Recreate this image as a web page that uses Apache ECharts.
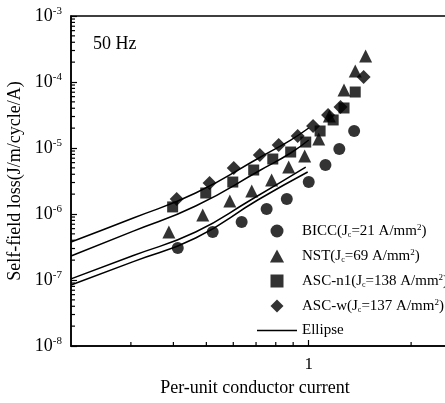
<!DOCTYPE html>
<html lang="en">
<head>
<meta charset="UTF-8">
<title>Self-field loss</title>
<script src="https://cdn.jsdelivr.net/npm/echarts@6/dist/echarts.min.js"></script>
<style>
html, body { margin: 0; padding: 0; background: #fff; }
#main { width: 445px; height: 403px; }
</style>
</head>
<body>
<div id="main"></div>
<script>
// points: [per-unit current, loss]
var bicc = [[0.412, 3.05e-7], [0.522, 5.33e-7], [0.635, 7.57e-7], [0.752, 1.19e-6], [0.862, 1.69e-6],
    [1.0, 3.05e-6], [1.12, 5.52e-6], [1.23, 9.66e-6], [1.36, 1.81e-5]];
var nst = [[0.388, 5.33e-7], [0.488, 9.66e-7], [0.586, 1.57e-6], [0.68, 2.23e-6], [0.778, 3.27e-6],
    [0.873, 5.15e-6], [0.973, 7.57e-6], [1.07, 1.37e-5], [1.15, 3.05e-5], [1.27, 7.57e-5],
    [1.37, 1.47e-4], [1.47, 2.48e-4]];
var ascN1 = [[0.398, 1.28e-6], [0.498, 2.08e-6], [0.598, 3.05e-6], [0.689, 4.64e-6], [0.784, 6.81e-6],
    [0.885, 8.69e-6], [0.98, 1.23e-5], [1.08, 1.81e-5], [1.18, 2.66e-5], [1.27, 4.04e-5], [1.37, 7.05e-5]];
var ascW = [[0.409, 1.69e-6], [0.511, 2.95e-6], [0.602, 4.98e-6], [0.718, 7.83e-6], [0.816, 1.11e-5],
    [0.928, 1.52e-5], [1.03, 2.15e-5], [1.14, 3.16e-5], [1.24, 4.18e-5], [1.45, 1.19e-4]];

// ellipse model curves, traced
var ellA = [[0.2, 3.77e-7], [0.305, 8.7e-7], [0.465, 2.08e-6], [0.722, 7.31e-6], [0.885, 1.32e-5], [1.0, 2.01e-5]];
var ellB = [[0.2, 2.31e-7], [0.305, 5.5e-7], [0.465, 1.32e-6], [0.722, 4.64e-6], [0.885, 8.4e-6], [1.0, 1.32e-5]];
var ellC = [[0.2, 1.04e-7], [0.305, 2.35e-7], [0.465, 5.33e-7], [0.675, 1.63e-6], [0.98, 5.15e-6]];
var ellD = [[0.2, 8.4e-8], [0.305, 1.9e-7], [0.465, 4.33e-7], [0.708, 1.63e-6], [0.993, 4.33e-6]];

var xMin = 0.2, xMax = 3, yMin = 1e-8, yMax = 1e-3;
var xMinorTicks = [0.3, 0.4, 0.5, 0.6, 0.7, 0.8, 0.9, 2];
var yMinorTicks = [];
[-8, -7, -6, -5, -4].forEach(function (e) {
    for (var k = 2; k <= 9; k++) yMinorTicks.push(k * Math.pow(10, e));
});

var legendRich = {
    'BICC': '{n|BICC(J}{s|c}{n|=21 A/mm}{p|2}{n|)}',
    'NST': '{n|NST(J}{s|c}{n|=69 A/mm}{p|2}{n|)}',
    'ASC-n1': '{n|ASC-n1(J}{s|c}{n|=138 A/mm}{p|2}{n|)}',
    'ASC-w': '{n|ASC-w(J}{s|c}{n|=137 A/mm}{p|2}{n|)}',
    'Ellipse': '{n|Ellipse}'
};

var serif = 'Liberation Serif';
var chart = echarts.init(document.getElementById('main'));

function scatter(name, data, symbol, size) {
    return {
        name: name, type: 'scatter', data: data, symbol: symbol, symbolSize: size,
        itemStyle: { color: '#000' }, z: 3
    };
}
function ellipse(data) {
    return {
        name: 'Ellipse', type: 'line', data: data, smooth: true, showSymbol: false, symbol: 'none',
        lineStyle: { color: '#000', width: 1.5 }, itemStyle: { color: '#000' }, z: 2
    };
}
function minorTicks(data, onY) {
    return {
        type: 'custom', silent: true, clip: false, z: 4,
        data: data,
        renderItem: function (params, api) {
            var p = onY ? api.coord([xMin, api.value(0)]) : api.coord([api.value(0), yMin]);
            return {
                type: 'line',
                shape: onY ? { x1: p[0], y1: p[1], x2: p[0] + 4, y2: p[1] }
                           : { x1: p[0], y1: p[1], x2: p[0], y2: p[1] - 4 },
                style: { stroke: '#000', lineWidth: 1.2 }
            };
        },
        encode: onY ? { y: 0 } : { x: 0 }
    };
}

chart.setOption({
    animation: false,
    backgroundColor: '#fff',
    title: {
        text: '50 Hz', left: 93, top: 35, padding: 0,
        textStyle: { fontFamily: serif, fontSize: 18, fontWeight: 'normal', color: '#000' }
    },
    grid: { left: 71, right: -26, top: 16, bottom: 57, outerBoundsMode: 'none',
        show: true, borderColor: '#000', borderWidth: 1.5, backgroundColor: 'transparent' },
    legend: {
        orient: 'vertical', left: 257, top: 223, padding: 0,
        itemWidth: 40, itemHeight: 13, itemGap: 9,
        symbolKeepAspect: true,
        data: [
            { name: 'BICC', icon: 'circle' },
            { name: 'NST', icon: 'path://M6,0L12,11L0,11Z' },
            { name: 'ASC-n1', icon: 'path://M0,0h11v11h-11z' },
            { name: 'ASC-w', icon: 'path://M6,0L12,6L6,12L0,6Z' },
            { name: 'Ellipse', icon: 'path://M0,0h40v1.5h-40z' }
        ],
        itemStyle: { color: '#000' },
        formatter: function (name) { return legendRich[name]; },
        textStyle: {
            color: '#000', fontFamily: serif,
            rich: {
                n: { fontSize: 15, fontFamily: serif, color: '#000', lineHeight: 16 },
                s: { fontSize: 8, fontFamily: serif, color: '#000', verticalAlign: 'bottom', lineHeight: 16 },
                p: { fontSize: 9, fontFamily: serif, color: '#000', verticalAlign: 'top', lineHeight: 16 }
            }
        }
    },
    xAxis: {
        type: 'log', min: xMin, max: xMax,
        name: 'Per-unit conductor current', nameLocation: 'middle', nameGap: 33,
        nameTextStyle: { fontFamily: serif, fontSize: 18, color: '#000', padding: [0, 32, 0, 0] },
        axisLine: { lineStyle: { color: '#000', width: 1.5 } },
        axisTick: { inside: true, length: 6, lineStyle: { color: '#000', width: 1.2 } },
        splitLine: { show: false },
        axisLabel: {
            margin: 10, fontFamily: serif, fontSize: 17, color: '#000',
            showMinLabel: false, showMaxLabel: false,
            formatter: function (v) { return Math.abs(v - 1) < 1e-6 ? '1' : ''; }
        }
    },
    yAxis: {
        type: 'log', min: yMin, max: yMax, splitNumber: 5,
        name: 'Self-field loss(J/m/cycle/A)', nameLocation: 'middle', nameGap: 46, nameRotate: 90,
        nameTextStyle: { fontFamily: serif, fontSize: 18, color: '#000' },
        axisLine: { lineStyle: { color: '#000', width: 1.5 } },
        axisTick: { inside: true, length: 6, lineStyle: { color: '#000', width: 1.2 } },
        splitLine: { show: false },
        axisLabel: {
            margin: 9, color: '#000',
            formatter: function (v) {
                return '{b|10}{e|' + Math.round(Math.log10(v)) + '}';
            },
            rich: {
                b: { fontFamily: serif, fontSize: 18, color: '#000', lineHeight: 20 },
                e: { fontFamily: serif, fontSize: 11, color: '#000', verticalAlign: 'top', lineHeight: 20 }
            }
        }
    },
    series: [
        ellipse(ellA), ellipse(ellB), ellipse(ellC), ellipse(ellD),
        scatter('BICC', bicc, 'circle', 12),
        scatter('NST', nst, 'triangle', 13),
        scatter('ASC-n1', ascN1, 'rect', 11),
        scatter('ASC-w', ascW, 'diamond', 14),
        minorTicks(xMinorTicks, false),
        minorTicks(yMinorTicks, true)
    ]
});
</script>
</body>
</html>
